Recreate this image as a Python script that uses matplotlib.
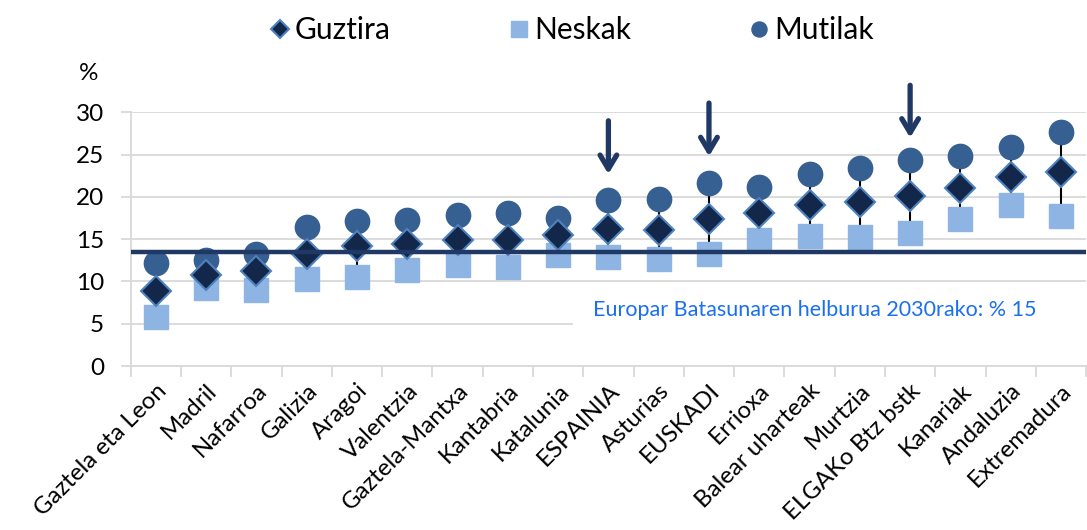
import matplotlib
matplotlib.use("Agg")
import matplotlib.pyplot as plt
from matplotlib.patches import Rectangle
import numpy as np

plt.rcParams['font.family'] = ['Lato', 'DejaVu Sans']

regions = [
    "Gaztela eta Leon", "Madril", "Nafarroa", "Galizia", "Aragoi", "Valentzia",
    "Gaztela-Mantxa", "Kantabria", "Katalunia", "ESPAINIA", "Asturias", "EUSKADI",
    "Errioxa", "Balear uharteak", "Murtzia", "ELGAKo Btz bstk", "Kanariak",
    "Andaluzia", "Extremadura"
]
guztira = [8.9, 10.8, 11.2, 13.3, 14.2, 14.4, 14.9, 14.9, 15.5, 16.2, 16.1, 17.4,
           18.1, 19.1, 19.4, 20.1, 21.1, 22.4, 23.0]
neskak = [5.8, 9.2, 9.0, 10.3, 10.5, 11.3, 11.9, 11.7, 13.1, 12.9, 12.7, 13.3,
          14.9, 15.4, 15.2, 15.7, 17.4, 19.0, 17.8]
mutilak = [12.2, 12.5, 13.3, 16.4, 17.2, 17.3, 17.9, 18.1, 17.5, 19.6, 19.7, 21.6,
           21.2, 22.7, 23.4, 24.4, 24.8, 25.9, 27.7]
targetLine = 13.5
arrowCats = ["ESPAINIA", "EUSKADI", "ELGAKo Btz bstk"]
arrowTops = [29.0, 31.1, 33.2]
arrowTips = [22.7, 24.8, 27.0]

navy = "#13274a"
edgeBlue = "#4f81bd"
lightBlue = "#8eb4e3"
midBlue = "#376092"
grid = "#d9d9d9"

fig = plt.figure(figsize=(10.87, 5.30), dpi=100)
ax = fig.add_axes([0.1202, 0.3094, 0.879, 0.4786])

x = np.arange(len(regions))

# high-low lines
ax.vlines(x, np.minimum(neskak, mutilak), np.maximum(neskak, mutilak),
          color="black", lw=1.5, zorder=2)

ax.plot(x, neskak, ls="none", marker="s", ms=17.5, mfc=lightBlue, mec=lightBlue,
        zorder=3, label="Neskak")
ax.plot(x, mutilak, ls="none", marker="o", ms=17.5, mfc=midBlue, mec=midBlue,
        zorder=3, label="Mutilak")
ax.plot(x, guztira, ls="none", marker="D", ms=15.5, mfc=navy, mec=edgeBlue, mew=1.5,
        zorder=4, label="Guztira")

ax.axhline(targetLine, color="#1f3864", lw=3.2, zorder=5)

for name, top, tip in zip(arrowCats, arrowTops, arrowTips):
    xi = regions.index(name)
    ax.annotate("", xy=(xi, tip), xytext=(xi, top),
                arrowprops=dict(arrowstyle="->,head_length=1.0,head_width=0.6",
                                color="#1f3864", lw=3.8, shrinkA=0, shrinkB=0),
                annotation_clip=False)

# white box behind the target note
ax.add_patch(Rectangle((8.29, 4.2), 10.3, 4.6, facecolor="white", edgecolor="none",
                       zorder=1))
ax.text(8.69, 6.6, "Europar Batasunaren helburua 2030rako: % 15", color="#1a6ff0",
        fontsize=15.5, va="center", ha="left", zorder=6)

ax.set_xlim(-0.5, len(regions) - 0.5)
ax.set_ylim(0, 30)
ax.set_yticks([0, 5, 10, 15, 20, 25, 30])
ax.yaxis.grid(True, color=grid, lw=1.3, zorder=0)
ax.set_axisbelow(True)

ax.set_xticks(x)
ax.set_xticklabels(regions, rotation=45, ha="right", rotation_mode="anchor", fontsize=17.3)
ax.set_xticks(np.arange(-0.5, len(regions)), minor=True)
ax.tick_params(axis="x", which="major", length=0, pad=10)
ax.tick_params(axis="x", which="minor", length=8, color=grid, width=1.3)
ax.tick_params(axis="y", length=7, color=grid, width=1.3, labelsize=17.5, pad=12)

for side in ["top", "right"]:
    ax.spines[side].set_visible(False)
ax.spines["left"].set_color(grid)
ax.spines["left"].set_linewidth(1.3)
ax.spines["bottom"].set_color(grid)
ax.spines["bottom"].set_linewidth(1.3)

fig.text(0.073, 0.862, "%", fontsize=17.5, ha="left", va="center")

handles, labels = ax.get_legend_handles_labels()
order = [2, 0, 1]
fig.legend([handles[i] for i in order], [labels[i] for i in order],
           loc="center", bbox_to_anchor=(0.525, 0.943), ncol=3, frameon=False,
           fontsize=21.5, markerscale=0.62, handletextpad=0.1, columnspacing=3.9,
           handlelength=0.8)

fig.savefig("out.png", dpi=100)
